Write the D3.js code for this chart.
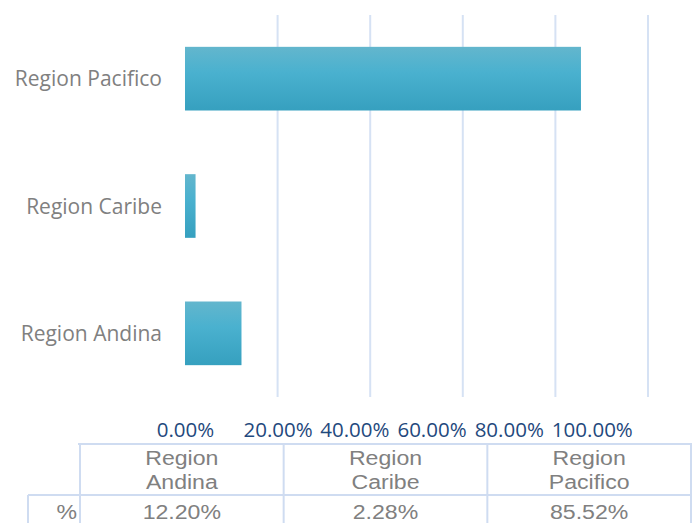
<!DOCTYPE html>
<html>
<head>
<meta charset="utf-8">
<script src="https://cdn.jsdelivr.net/npm/d3@7"></script>
<style>
  body { margin: 0; background: #fff; }
  svg { display: block; }
</style>
</head>
<body>
<div id="chart"></div>
<script>
// data
var regions = ["Region Andina", "Region Caribe", "Region Pacifico"]
var shares = [0.1220, 0.0228, 0.8552]
var tickValues = [0, 0.2, 0.4, 0.6, 0.8, 1.0]
var rowLabel = "%"

var width = 699, height = 523

var svg = d3.select("#chart").append("svg")
    .attr("width", width)
    .attr("height", height)

// bar gradient
var lg = svg.append("defs").append("linearGradient")
    .attr("id", "bargrad")
    .attr("x1", "0%").attr("x2", "0%")
    .attr("y1", "0%").attr("y2", "100%")
lg.append("stop").attr("offset", "0%").style("stop-color", "#63b6cd")
lg.append("stop").attr("offset", "40%").style("stop-color", "#4ab1cf")
lg.append("stop").attr("offset", "100%").style("stop-color", "#36a0bf")

var x = d3.scaleLinear()
    .domain([0, 1])
    .range([185, 648])

var y = d3.scaleBand()
    .domain(regions.slice().reverse())
    .range([15, 397])
    .paddingInner(0.5)
    .paddingOuter(0.25)

// gridlines (no line at 0)
svg.append("g")
    .selectAll("line")
    .data(tickValues.filter(d => d > 0))
    .join("line")
    .attr("x1", d => x(d)).attr("x2", d => x(d))
    .attr("y1", 15).attr("y2", 397)
    .attr("stroke", "#d6e2f4")
    .attr("stroke-width", 2)

// bars
svg.append("g")
    .selectAll("rect")
    .data(regions)
    .join("rect")
    .attr("x", x(0))
    .attr("y", d => y(d))
    .attr("width", (d, i) => x(shares[i]) - x(0))
    .attr("height", y.bandwidth())
    .attr("fill", "url(#bargrad)")

// category labels
var yAxis = d3.axisLeft(y).tickSize(0).tickPadding(23)
var gy = svg.append("g")
    .attr("transform", "translate(" + x(0) + ",0)")
    .call(yAxis)
gy.select(".domain").remove()
gy.selectAll("text")
    .attr("font-family", "'Open Sans', sans-serif")
    .attr("font-size", 21)
    .attr("fill", "#808080")
    .attr("dy", "0.36em")

// value axis labels
var xAxis = d3.axisBottom(x)
    .tickValues(tickValues)
    .tickFormat(d3.format(".2%"))
    .tickSize(0)
    .tickPadding(0)
var gx = svg.append("g")
    .attr("transform", "translate(0,422)")
    .call(xAxis)
gx.select(".domain").remove()
gx.selectAll("text")
    .attr("font-family", "'Open Sans', sans-serif")
    .attr("font-size", 20.5)
    .attr("fill", "#1f497d")
    .attr("dy", "0.71em")

// labels crowd together after the second one, pack them with a small gap
var prevEnd = null
gx.selectAll(".tick").each(function(d, i) {
    var t = d3.select(this).select("text")
    var w = t.node().getComputedTextLength()
    if (i >= 2) {
        var cx = prevEnd + 8 + w / 2
        d3.select(this).attr("transform", "translate(" + cx + ",0)")
        prevEnd = cx + w / 2
    } else {
        prevEnd = x(d) + w / 2
    }
})

// data table under the chart
var col = d3.scaleBand()
    .domain(regions)
    .range([80, 691])

var tbl = svg.append("g")
var lineColor = "#cfdcf1"

tbl.append("line")
    .attr("x1", col.range()[0] - 2).attr("x2", col.range()[1] + 1)
    .attr("y1", 444).attr("y2", 444)
    .attr("stroke", lineColor).attr("stroke-width", 2)
tbl.append("line")
    .attr("x1", 28).attr("x2", col.range()[1] + 1)
    .attr("y1", 495).attr("y2", 495)
    .attr("stroke", lineColor).attr("stroke-width", 2)
tbl.append("line")
    .attr("x1", 28).attr("x2", 28)
    .attr("y1", 495).attr("y2", height)
    .attr("stroke", lineColor).attr("stroke-width", 2)

var bounds = regions.map(r => col(r)).concat([col.range()[1]])
tbl.selectAll("line.v")
    .data(bounds)
    .join("line")
    .attr("class", "v")
    .attr("x1", d => d).attr("x2", d => d)
    .attr("y1", 444).attr("y2", height)
    .attr("stroke", lineColor).attr("stroke-width", 2)

var cellFont = "'Liberation Sans', Arial, sans-serif"

// table text looks horizontally stretched in the original
function cellText(cx, anchor) {
    return tbl.append("text")
        .attr("transform", "translate(" + cx + ",0) scale(1.1,1)")
        .attr("text-anchor", anchor)
        .attr("font-family", cellFont)
        .attr("font-size", 21)
        .attr("fill", "#808080")
}

regions.forEach(function(r, i) {
    var cx = col(r) + col.bandwidth() / 2
    var parts = r.split(" ")
    var t = cellText(cx, "middle")
    t.append("tspan").attr("x", 0).attr("y", 465).text(parts[0])
    t.append("tspan").attr("x", 0).attr("y", 489).text(parts[1])

    cellText(cx, "middle")
        .attr("y", 519)
        .text(d3.format(".2%")(shares[i]))
})

cellText(77, "end")
    .attr("y", 519)
    .text(rowLabel)
</script>
</body>
</html>
